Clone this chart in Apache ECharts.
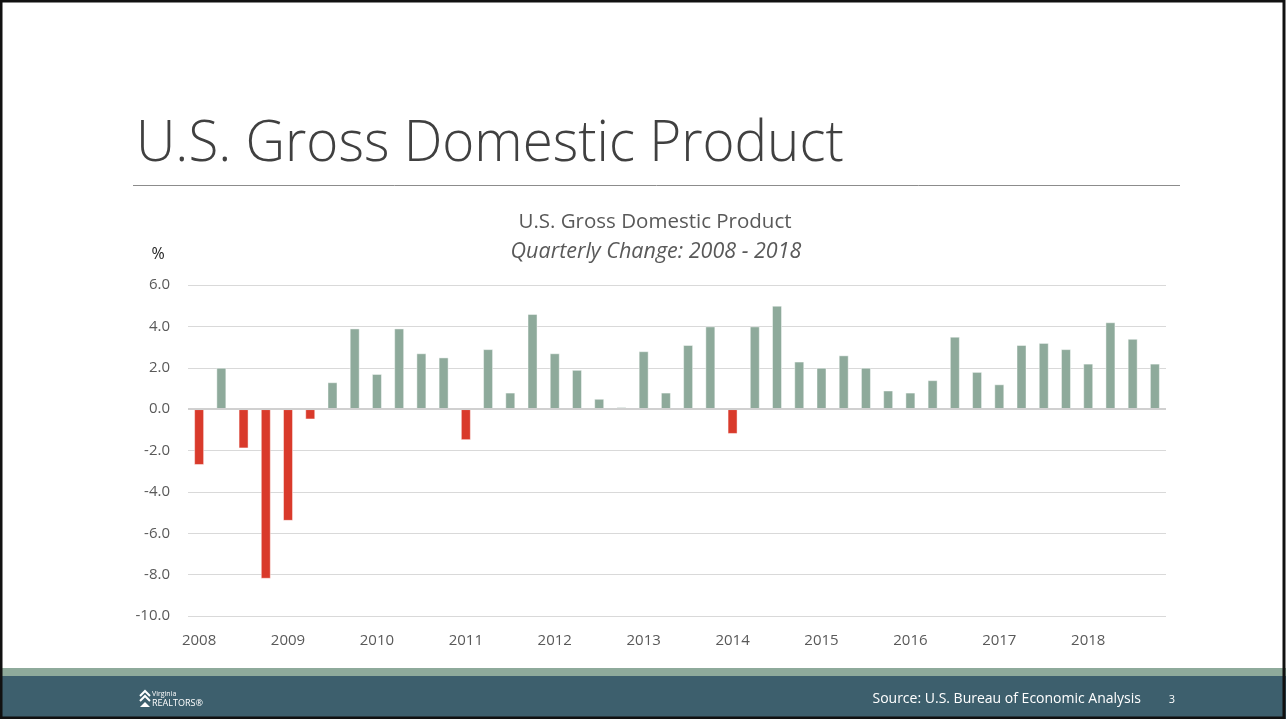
<!DOCTYPE html>
<html>
<head>
<meta charset="utf-8">
<title>U.S. Gross Domestic Product</title>
<script src="https://cdn.jsdelivr.net/npm/echarts@6/dist/echarts.min.js"></script>
<style>
  html, body { margin: 0; padding: 0; background: #fff; }
  #chart { width: 1286px; height: 719px; }
</style>
</head>
<body>
<div id="chart"></div>
<script>
// quarterly change in real GDP, annualized %, 2008 Q1 .. 2018 Q4
const years = ['2008', '2009', '2010', '2011', '2012', '2013', '2014', '2015', '2016', '2017', '2018']
const quarters = ['Q1', 'Q2', 'Q3', 'Q4']
const gdpChange = [
  -2.7, 2.0, -1.9, -8.2,
  -5.4, -0.5, 1.3, 3.9,
  1.7, 3.9, 2.7, 2.5,
  -1.5, 2.9, 0.8, 4.6,
  2.7, 1.9, 0.5, 0.1,
  2.8, 0.8, 3.1, 4.0,
  -1.2, 4.0, 5.0, 2.3,
  2.0, 2.6, 2.0, 0.9,
  0.8, 1.4, 3.5, 1.8,
  1.2, 3.1, 3.2, 2.9,
  2.2, 4.2, 3.4, 2.2
]
const yTicks = [-10, -8, -6, -4, -2, 0, 2, 4, 6]

const categories = []
for (const y of years) for (const q of quarters) categories.push(y + ' ' + q)

const green = '#8eaa9b'
const red = '#d93a2b'
const grey = '#595959'
const font = '"Open Sans", "Liberation Sans", sans-serif'

const chart = echarts.init(document.getElementById('chart'))

const option = {
  animation: false,
  backgroundColor: '#fff',
  textStyle: { fontFamily: font },
  grid: { left: 188, right: 120, top: 285, bottom: 103, containLabel: false },
  xAxis: {
    type: 'category',
    data: categories,
    axisLine: { show: false },
    axisTick: { show: false },
    axisLabel: {
      interval: 3,
      color: grey,
      fontSize: 15,
      margin: 17,
      formatter: v => v.slice(0, 4)
    }
  },
  yAxis: {
    type: 'value',
    min: yTicks[0],
    max: yTicks[yTicks.length - 1],
    interval: 2,
    axisLine: { show: false },
    axisTick: { show: false },
    axisLabel: { color: grey, fontSize: 15, margin: 18, formatter: v => v.toFixed(1) },
    splitLine: { lineStyle: { color: '#d9d9d9', width: 1 } }
  },
  series: [
    {
      type: 'bar',
      data: gdpChange,
      barWidth: '45%',
      itemStyle: {
        color: p => (p.value < 0 ? red : green),
        borderColor: 'rgba(255,255,255,0.45)',
        borderWidth: 1
      },
      markLine: {
        silent: true,
        symbol: 'none',
        label: { show: false },
        lineStyle: { color: '#d0d0d0', width: 2, type: 'solid' },
        data: [{ yAxis: 0 }]
      }
    }
  ],
  graphic: [
    // slide frame
    { type: 'rect', z: 100, shape: { x: 1, y: 1, width: 1283, height: 717 }, style: { fill: 'none', stroke: '#111', lineWidth: 3 } },
    // slide title
    {
      type: 'text', x: 136, y: 145, scaleX: 0.96,
      style: { text: 'U.S. Gross Domestic Product', font: '300 57px ' + font, fill: '#404040', verticalAlign: 'middle' }
    },
    { type: 'line', shape: { x1: 133, y1: 185.5, x2: 1180, y2: 185.5 }, style: { stroke: '#8c8c8c', lineWidth: 1 } },
    // chart title
    {
      type: 'text', x: 655, y: 222,
      style: { text: 'U.S. Gross Domestic Product', font: '20.5px ' + font, fill: grey, align: 'center', verticalAlign: 'middle' }
    },
    {
      type: 'text', x: 656, y: 252,
      style: { text: 'Quarterly Change: 2008 - 2018', font: 'italic 21.5px ' + font, fill: grey, align: 'center', verticalAlign: 'middle' }
    },
    {
      type: 'text', x: 158, y: 254,
      style: { text: '%', font: '16px ' + font, fill: '#222', align: 'center', verticalAlign: 'middle' }
    },
    // footer
    { type: 'rect', shape: { x: 0, y: 668, width: 1286, height: 8 }, style: { fill: '#8eaa9b' } },
    { type: 'rect', shape: { x: 0, y: 676, width: 1286, height: 43 }, style: { fill: '#3d5f6d' } },
    {
      type: 'text', x: 1141, y: 699,
      style: { text: 'Source: U.S. Bureau of Economic Analysis', font: '14px ' + font, fill: '#fff', align: 'right', verticalAlign: 'middle' }
    },
    {
      type: 'text', x: 1172, y: 700,
      style: { text: '3', font: '11px ' + font, fill: '#fff', align: 'center', verticalAlign: 'middle' }
    },
    // logo
    { type: 'polyline', shape: { points: [[140, 696], [145, 691], [150, 696]] }, style: { stroke: '#fff', fill: 'none', lineWidth: 2 } },
    { type: 'polyline', shape: { points: [[140, 701], [145, 696], [150, 701]] }, style: { stroke: '#fff', fill: 'none', lineWidth: 2 } },
    { type: 'polygon', shape: { points: [[140, 707], [145, 702], [150, 707]] }, style: { fill: '#fff' } },
    {
      type: 'text', x: 152, y: 694,
      style: { text: 'Virginia', font: '7px ' + font, fill: '#fff', verticalAlign: 'middle' }
    },
    {
      type: 'text', x: 152, y: 703,
      style: { text: 'REALTORS\u00ae', font: '9px ' + font, fill: '#fff', verticalAlign: 'middle' }
    }
  ]
}

chart.setOption(option)
</script>
</body>
</html>
